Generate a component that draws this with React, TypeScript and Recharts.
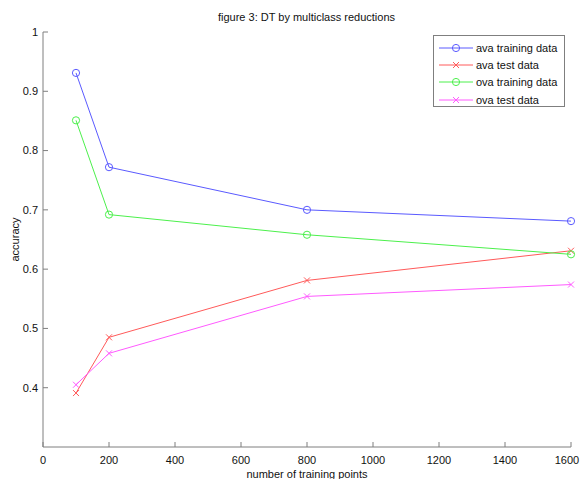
import { LineChart, Line, XAxis, YAxis, Legend, Label } from "recharts";

const trainingPoints = [100, 200, 800, 1600];
const avaTraining = [0.931, 0.772, 0.7, 0.681];
const avaTest = [0.391, 0.485, 0.581, 0.631];
const ovaTraining = [0.851, 0.692, 0.658, 0.625];
const ovaTest = [0.405, 0.458, 0.554, 0.574];

const xTicks = [0, 200, 400, 600, 800, 1000, 1200, 1400, 1600];
const yTicks = [0.4, 0.5, 0.6, 0.7, 0.8, 0.9, 1];

const AXIS = "#7f7f7f";
const FONT = "'Liberation Sans', Arial, sans-serif";
const CHART_W = 581;

const series = [
  { key: "avaTrain", name: "ava training data", color: "#5a5aff", marker: "circle", values: avaTraining },
  { key: "avaTest", name: "ava test data", color: "#ff5a5a", marker: "cross", values: avaTest },
  { key: "ovaTrain", name: "ova training data", color: "#4cf04c", marker: "circle", values: ovaTraining },
  { key: "ovaTest", name: "ova test data", color: "#ff5aff", marker: "cross", values: ovaTest },
];

const data = trainingPoints.map((x, i) => {
  const row: Record<string, number> = { x };
  series.forEach(s => { row[s.key] = s.values[i]; });
  return row;
});

function Marker({ cx, cy, color, marker }: any) {
  if (cx == null || cy == null) return null;
  if (marker === "circle") {
    return <circle cx={cx} cy={cy} r={3.6} fill="none" stroke={color} strokeWidth={1} />;
  }
  return (
    <g stroke={color} strokeWidth={1}>
      <line x1={cx - 3} y1={cy - 3} x2={cx + 3} y2={cy + 3} />
      <line x1={cx - 3} y1={cy + 3} x2={cx + 3} y2={cy - 3} />
    </g>
  );
}

const X_GAP = 9;
const Y_GAP = 5;

function XTick({ x, y, payload }: any) {
  const axisY = y - X_GAP;
  // keep the last label inside the window
  const tx = Math.min(x, CHART_W - 14);
  return (
    <g>
      <line x1={x} x2={x} y1={axisY} y2={axisY - 5} stroke={AXIS} />
      <text x={tx} y={y} dy="0.71em" textAnchor="middle" fill="#111" fontSize={11} fontFamily={FONT}>
        {payload.value}
      </text>
    </g>
  );
}

function YTick({ x, y, payload }: any) {
  const axisX = x + Y_GAP;
  return (
    <g>
      <line x1={axisX} x2={axisX + 5} y1={y} y2={y} stroke={AXIS} />
      <text x={x} y={y} dy="0.355em" textAnchor="end" fill="#111" fontSize={11} fontFamily={FONT}>
        {String(Math.round(payload.value * 10) / 10)}
      </text>
    </g>
  );
}

function LegendBox() {
  return (
    <div style={{ width: 132, height: 72, boxSizing: "border-box", border: `1px solid ${AXIS}`, background: "#fff", paddingTop: 3 }}>
      {series.map(s => (
        <div key={s.key} style={{ height: 17.3, display: "flex", alignItems: "center" }}>
          <svg width={42} height={12} style={{ display: "block" }}>
            <line x1={5} x2={39} y1={6} y2={6} stroke={s.color} strokeWidth={1} />
            <Marker cx={22} cy={6} color={s.color} marker={s.marker} />
          </svg>
          <span style={{ fontFamily: FONT, fontSize: 11, color: "#111", whiteSpace: "nowrap" }}>{s.name}</span>
        </div>
      ))}
    </div>
  );
}

export default function App() {
  return (
    <div style={{ position: "relative", width: CHART_W, height: 479, background: "#fff" }}>
      <style>{`body { margin: 0; }`}</style>
      <div style={{ position: "absolute", left: 0, top: 11, width: CHART_W, textAlign: "center", paddingLeft: 32, boxSizing: "border-box", fontFamily: FONT, fontSize: 11, color: "#111" }}>
        figure 3: DT by multiclass reductions
      </div>
      <LineChart width={CHART_W} height={479} data={data} margin={{ top: 32, right: 10, bottom: 0, left: 3 }}>
        <XAxis
          dataKey="x"
          type="number"
          domain={[0, 1600]}
          ticks={xTicks}
          interval={0}
          stroke={AXIS}
          tickSize={0}
          tickMargin={X_GAP}
          tickLine={false}
          tick={<XTick />}
          height={32}
        >
          <Label value="number of training points" position="insideBottom" offset={1} fill="#111" fontSize={11} fontFamily={FONT} />
        </XAxis>
        <YAxis
          type="number"
          domain={[0.3, 1]}
          ticks={yTicks}
          interval={0}
          stroke={AXIS}
          tickSize={0}
          tickMargin={Y_GAP}
          tickLine={false}
          tick={<YTick />}
          width={40}
        >
          <Label
            content={({ viewBox }: any) => {
              const cx = viewBox.x + 15.5;
              const cy = viewBox.y + viewBox.height / 2;
              return (
                <text x={cx} y={cy} transform={`rotate(-90, ${cx}, ${cy})`} textAnchor="middle" fill="#111" fontSize={11} fontFamily={FONT}>
                  accuracy
                </text>
              );
            }}
          />
        </YAxis>
        <Legend
          layout="vertical"
          align="center"
          verticalAlign="middle"
          content={<LegendBox />}
          wrapperStyle={{ position: "absolute", left: 433, top: 35, width: 132, height: 72 }}
        />
        {series.map(s => (
          <Line
            key={s.key}
            dataKey={s.key}
            name={s.name}
            type="linear"
            stroke={s.color}
            strokeWidth={1}
            isAnimationActive={false}
            activeDot={false}
            dot={(p: any) => <Marker key={`${s.key}-${p.index}`} cx={p.cx} cy={p.cy} color={s.color} marker={s.marker} />}
          />
        ))}
      </LineChart>
    </div>
  );
}
